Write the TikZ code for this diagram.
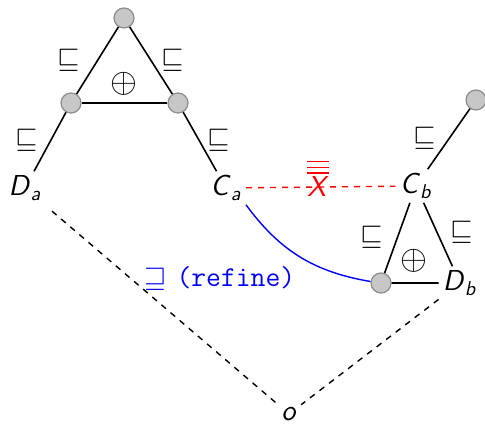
\documentclass[tikz,border=0pt]{standalone}
\usepackage{amsmath,amssymb}
\usepackage{tikz}
\newcommand{\sv}[2]{\textsf{\textit{#1}}\ensuremath{_{\textsf{\textit{#2}}}}}
\newcommand{\neqX}{\ensuremath{\overline{\overline{\overline{\textsf{\textit{X}}}}}}}

\begin{document}
\begin{tikzpicture}[x=0.5pt,y=-0.5pt,font=\Large,
  dot/.style={circle,fill=black!22,draw=black!45,line width=0.6pt,minimum size=10pt,inner sep=0pt},
  lbl/.style={inner sep=2pt},
  ln/.style={line width=0.8pt},
  dsh/.style={line width=0.7pt,dashed}]
\useasboundingbox (0,0) rectangle (485,426);
% left structure
\node[dot] (ta) at (124,18) {};
\node[dot] (la) at (71,103) {};
\node[dot] (ra) at (178,103) {};
\node[lbl] (Da) at (25,188) {\sv{D}{a}};
\node[lbl] (Ca) at (226,188) {\sv{C}{a}};
\draw[ln] (ta) -- (la) -- (Da);
\draw[ln] (ta) -- (ra) -- (Ca);
\draw[ln] (la) -- (ra);
\node (pa) at (124,84) {\LARGE$\oplus$};
\node (s1) at (69,60) {$\sqsubseteq$};
\node (s2) at (173,60) {$\sqsubseteq$};
\node (s3) at (27,140) {$\sqsubseteq$};
\node (s4) at (219,140) {$\sqsubseteq$};
% right structure
\node[dot] (tb) at (476,100) {};
\node[lbl] (Cb) at (416,186) {\sv{C}{b}};
\node[dot] (bb) at (381,283) {};
\node[lbl] (Db) at (460,283) {\sv{D}{b}};
\draw[ln] (Cb) -- (tb);
\draw[ln] (Cb) -- (bb) -- (Db);
\draw[ln] (Cb) -- (Db);
\node (pb) at (414,261) {\LARGE$\oplus$};
\node (s5) at (425,138) {$\sqsubseteq$};
\node (s6) at (372,237) {$\sqsubseteq$};
\node (s7) at (462,232) {$\sqsubseteq$};
% relations
\node[lbl] (o) at (289,414) {\textsf{\textit{o}}};
\draw[dsh,shorten <=5pt] (Da) -- (o);
\draw[dsh] (Db) -- (o);
\draw[dsh,red] (Ca) -- (Cb);
\node[red,anchor=base] (nx) at (318,197) {\neqX};
\draw[blue,line width=0.7pt] (Ca.south east) to[bend right=22] (bb);
\node[blue] (rf) at (220,278) {$\sqsupseteq$ \texttt{(refine)}};
\end{tikzpicture}
\end{document}
